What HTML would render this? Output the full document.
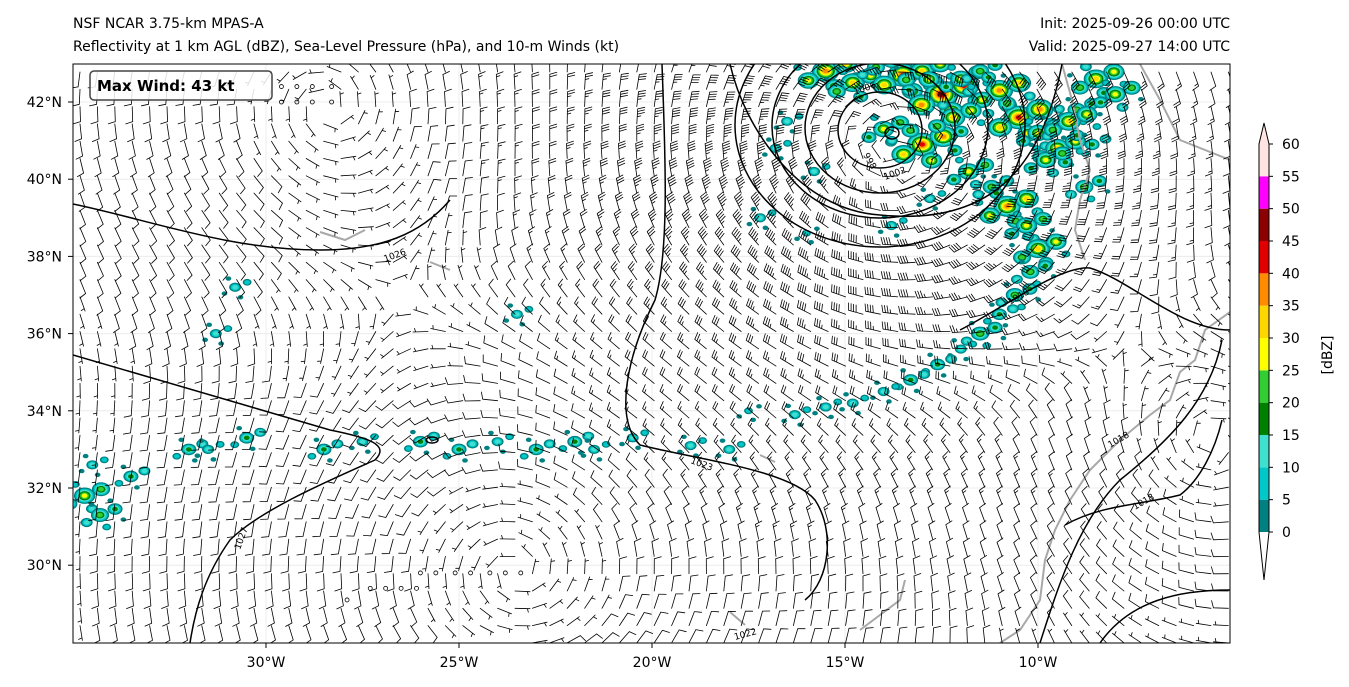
<!DOCTYPE html>
<html><head><meta charset="utf-8"><style>
html,body{margin:0;padding:0;background:#fff;}
svg{display:block;font-family:"DejaVu Sans","Liberation Sans",sans-serif;}
</style></head><body>
<svg id="s" width="1349" height="687" viewBox="0 0 1349 687">
<text x="73" y="28" font-size="14">NSF NCAR 3.75-km MPAS-A</text>
<text x="73" y="51" font-size="14">Reflectivity at 1 km AGL (dBZ), Sea-Level Pressure (hPa), and 10-m Winds (kt)</text>
<text x="1230" y="28" font-size="14" text-anchor="end">Init: 2025-09-26 00:00 UTC</text>
<text x="1230" y="51" font-size="14" text-anchor="end">Valid: 2025-09-27 14:00 UTC</text>
<defs><clipPath id="mc"><rect x="73" y="64" width="1157" height="579"/></clipPath></defs>
<g id="map" clip-path="url(#mc)">
<g id="grid" stroke="#ececec" stroke-width="1"></g>
<g id="refl"></g>
<g id="coast" fill="none" stroke="#a8a8a8" stroke-width="2">
<path d="M1230,312 L1205,330 L1195,360 L1180,372 L1170,400 L1150,415 L1120,440 L1090,470 L1070,500 L1055,530 L1045,560 L1040,600 L1020,630 L1000,643"/>
<path d="M1062,64 L1072,100 L1080,140 L1090,170 L1080,200 L1075,230 L1085,260"/>
<path d="M1140,64 L1160,100 L1180,140 L1230,160"/>
<path d="M320,232 L345,240 L365,230 M430,262 L450,270 M760,455 L775,462 M730,612 L745,625 M860,630 L900,600 L905,580"/>
</g>
<g id="isobars" fill="none" stroke="#000" stroke-width="1.5">
<ellipse cx="892" cy="133" rx="7" ry="6"/>
<ellipse cx="880" cy="130" rx="42" ry="38"/>
<ellipse cx="880" cy="128" rx="75" ry="65"/>
<ellipse cx="880" cy="126" rx="108" ry="92"/>
<ellipse cx="880" cy="125" rx="145" ry="122"/>
<path d="M730,64 C745,130 800,210 880,215 C980,225 1040,180 1062,64"/>
<path d="M73,204 C150,220 230,250 320,250 C380,250 420,235 450,200"/>
<path d="M73,355 C160,380 260,410 330,430 C370,438 390,445 375,460 C330,480 260,510 230,540 C205,575 195,610 190,643"/>
<path d="M662,64 C665,150 670,250 655,300 C625,360 615,420 640,445 C700,460 790,470 815,500 C835,530 830,580 805,600"/>
<path d="M960,330 C1000,310 1060,265 1090,268 C1130,280 1180,330 1230,330"/>
<path d="M1040,643 C1060,580 1080,520 1120,480 C1170,440 1210,400 1222,340"/>
<path d="M1065,525 C1100,505 1140,505 1180,495 C1200,480 1215,450 1222,420"/>
<path d="M1100,643 C1130,600 1180,590 1230,590"/>
<ellipse cx="432" cy="440" rx="6" ry="3"/>
</g>
<g font-size="9" fill="#000">
<text x="385" y="262" transform="rotate(-20 385 262)">1026</text>
<text x="690" y="463" transform="rotate(20 690 463)">1023</text>
<text x="1010" y="305" transform="rotate(-30 1010 305)">1018</text>
<text x="240" y="550" transform="rotate(-70 240 550)">1027</text>
<text x="735" y="640" transform="rotate(-15 735 640)">1022</text>
<text x="1110" y="448" transform="rotate(-30 1110 448)">1018</text>
<text x="1135" y="510" transform="rotate(-30 1135 510)">1018</text>
<text x="855" y="95" transform="rotate(-20 855 95)">1006</text>
<text x="863" y="155" transform="rotate(60 863 155)">998</text>
<text x="885" y="180" transform="rotate(-20 885 180)">1002</text>
</g>
<g id="barbs" stroke="#000" stroke-width="0.8" fill="none" stroke-linecap="round"></g>
<g id="calm" stroke="#000" stroke-width="0.8" fill="none"></g>
</g>
<rect x="73" y="64" width="1157" height="579" fill="none" stroke="#000" stroke-width="1"/>
<g>
<rect x="90" y="71" width="182" height="29" rx="4" fill="#fff" fill-opacity="0.85" stroke="#444" stroke-width="1.5"/>
<text x="97" y="91" font-size="15" font-weight="bold">Max Wind: 43 kt</text>
</g>
<g id="axes" font-size="14"></g>
<g id="cbar"></g>
<text x="1332" y="355" font-size="14" text-anchor="middle" transform="rotate(-90 1332 355)">[dBZ]</text>
</svg>
<script>
const NS="http://www.w3.org/2000/svg";
// axis data
const lonTicks=[-30,-25,-20,-15,-10];
const lonLabels=["30°W","25°W","20°W","15°W","10°W"];
const latTicks=[42,40,38,36,34,32,30];
const latLabels=["42°N","40°N","38°N","36°N","34°N","32°N","30°N"];
// colorbar data
const dbzLevels=[0,5,10,15,20,25,30,35,40,45,50,55,60];
const dbzColors=["#008080","#00c8c8","#40e0d0","#008000","#32cd32","#ffff00","#ffd700","#ff8c00","#e00000","#8b0000","#ff00ff","#ffe4e1"];
// wind field sources: lon, lat, peak strength (kt), radius (deg), sign (+1 cyclonic)
const vortLon=[-13.8,-23.5,-28.5,-5.5];
const vortLat=[40.7,29.8,42.3,33.0];
const vortStr=[40,12,11,9];
const vortRad=[3.0,5.0,4.0,3.0];
const vortSign=[1,-1,-1,1];
// calm points (lon, lat)
const calmLon=[-29.6,-29.2,-28.8,-28.3,-29.6,-29.2,-28.8,-28.3,-26.0,-25.6,-25.1,-24.7,-24.2,-23.8,-23.4,-27.3,-26.9,-26.5,-26.1,-27.9];
const calmLat=[42.4,42.4,42.4,42.4,42.0,42.0,42.0,42.0,29.8,29.8,29.8,29.8,29.8,29.8,29.8,29.4,29.4,29.4,29.4,29.1];
// reflectivity blob clusters: lon, lat, dbz
const blobLon=[-15.5,-14.8,-14.2,-13.5,-13.0,-12.5,-12.0,-11.5,-11.0,-10.5,-10.0,-9.5,-9.0,-8.5,-8.0,-16.5,-16.8,-15.8,-14.0,-13.0,-12.2,-11.8,-11.2,-10.8,-10.3,-10.0,-10.2,-10.6,-11.0,-11.5,-12.0,-12.6,-13.3,-14.0,-14.8,-15.5,-16.3,-17.5,-17.2,-16.0,-13.8,-12.8,-9.8,-9.2,-8.8,-8.6,-27.5,-26,-25,-24,-23,-22,-21.5,-20.5,-19,-18,-30.5,-31.5,-33.5,-34.5,-34.7,-34.3,-32,-31.5,-23.5,-28.5,-30.8,-31.3];
const blobLat=[42.8,42.5,42.9,42.7,42.8,42.2,42.6,42.8,42.3,41.6,41.2,40.8,41.8,42.6,42.2,41.5,40.8,40.2,41.3,40.9,41.6,40.2,39.8,39.3,38.8,38.2,37.6,37.0,36.5,36.0,35.6,35.2,34.8,34.5,34.2,34.1,33.9,34.0,39.0,38.6,38.8,39.5,40.5,41.5,39.8,40.9,33.2,33.2,33.0,33.2,33.0,33.2,33.0,33.3,33.1,33.0,33.3,33.0,32.3,32.6,31.8,31.3,33.0,33.0,36.5,33.0,37.2,36.0];
const blobDbz=[35,30,20,40,30,45,25,20,35,40,25,30,20,30,25,12,10,12,25,40,30,25,20,35,25,30,20,22,15,20,12,18,15,12,10,12,10,8,10,8,12,10,25,30,20,15,12,15,18,12,15,18,12,10,12,10,15,12,15,12,25,20,15,12,10,15,10,10];

const X=lon=>73+(lon+35)*38.6;
const Y=lat=>102+(42-lat)*38.6;
function mk(tag,attrs,parent){const e=document.createElementNS(NS,tag);for(const k in attrs)e.setAttribute(k,attrs[k]);parent.appendChild(e);return e;}

const grid=document.getElementById('grid'),axes=document.getElementById('axes');
lonTicks.forEach((v,i)=>{
  mk('line',{x1:X(v),x2:X(v),y1:64,y2:643},grid);
  const t=mk('line',{x1:X(v),x2:X(v),y1:643,y2:648,stroke:'#000'},axes);
  
  
  const l=mk('text',{x:X(v),y:667,'text-anchor':'middle'},axes);l.textContent=lonLabels[i];
  
  
});
latTicks.forEach((v,i)=>{
  mk('line',{x1:73,x2:1230,y1:Y(v),y2:Y(v)},grid);
  const t=mk('line',{x1:68,x2:73,y1:Y(v),y2:Y(v),stroke:'#000'},axes);
  
  
  const l=mk('text',{x:62,y:Y(v)+5,'text-anchor':'end'},axes);l.textContent=latLabels[i];
  
  
});

const cb=document.getElementById('cbar');
const cbx=1259,cbw=10,cy0=532,cstep=(532-144)/12;
dbzColors.forEach((c,i)=>{
  const r=mk('rect',{x:cbx,y:cy0-(i+1)*cstep,width:cbw,height:cstep,fill:c},cb);
  
  
});
mk('path',{d:`M${cbx},${cy0} L${cbx+cbw/2},580 L${cbx+cbw},${cy0} Z`,fill:'#fff',stroke:'none'},cb);
mk('path',{d:`M${cbx},144 L${cbx+cbw/2},123 L${cbx+cbw},144 Z`,fill:dbzColors[11]},cb);
mk('path',{d:`M${cbx},144 L${cbx+cbw/2},123 L${cbx+cbw},144 L${cbx+cbw},${cy0} L${cbx+cbw/2},580 L${cbx},${cy0} Z`,fill:'none',stroke:'#000','stroke-width':1},cb);
dbzLevels.forEach((v,i)=>{
  const y=cy0-i*cstep;
  mk('line',{x1:cbx+cbw,x2:cbx+cbw+4,y1:y,y2:y,stroke:'#000'},cb);
  const t=mk('text',{x:cbx+cbw+13,y:y+5,'font-size':14},cb);t.textContent=v;
  
  
});

const refl=document.getElementById('refl');
const offs=[[0,0],[9,-4],[-8,5],[4,8],[-5,-7],[14,3],[-13,-2]];
blobLon.forEach((lo,i)=>{
  const d=blobDbz[i],cx=X(lo),cy=Y(blobLat[i]);
  const top=Math.min(11,Math.floor(d/5));
  offs.forEach((o,j)=>{
    if(j>3+top/2)return;
    const px=cx+o[0]*(1+top/6),py=cy+o[1]*(1+top/8);
    const lvl=Math.max(0,top-j);
    for(let k=0;k<=lvl;k++){
      const r=(lvl-k)*1.2+2.2;
      const e=mk('ellipse',{cx:px,cy:py,rx:r*1.3,ry:r,fill:dbzColors[k]},refl);
      
      
    }
  });
});

function wind(lon,lat){
  let u=0,v=0;
  for(let i=0;i<vortLon.length;i++){
    const dx=(lon-vortLon[i])*0.78,dy=lat-vortLat[i];
    const r=Math.sqrt(dx*dx+dy*dy)+0.01,q=r/vortRad[i];
    const sp=vortStr[i]*q*Math.exp(0.5*(1-q*q));
    u+=vortSign[i]*(-dy/r)*sp; v+=vortSign[i]*(dx/r)*sp;
  }
  return [u,v];
}
const bg=document.getElementById('barbs'),calm=document.getElementById('calm');
calmLon.forEach((lo,i)=>{
  const c=mk('circle',{cx:X(lo),cy:Y(calmLat[i]),r:2},calm);
  
  
});
for(let py=72;py<643;py+=17.3){
  for(let px=80;px<1230;px+=17.4){
    const lon=-35+(px-73)/38.6,lat=42-(py-102)/38.6;
    const [u,v]=wind(lon,lat);
    let spd=Math.sqrt(u*u+v*v);
    if(spd<1)continue;
    spd=Math.max(spd,5);
    const ux=-u/Math.hypot(u,v),uy=v/Math.hypot(u,v);
    const L=15,ex=px+ux*L,ey=py+uy*L;
    let d=`M${px.toFixed(1)},${py.toFixed(1)}L${ex.toFixed(1)},${ey.toFixed(1)}`;
    const fx=-uy,fy=ux;
    let n=Math.round(spd/5),pos=0;
    const full=Math.floor(n/2),half=n%2;
    for(let k=0;k<full;k++){
      const bx=ex-ux*pos,by=ey-uy*pos;
      d+=`M${bx.toFixed(1)},${by.toFixed(1)}l${(fx*7+ux*2).toFixed(1)},${(fy*7+uy*2).toFixed(1)}`;
      pos+=2.6;
    }
    if(half){
      if(full==0)pos=2.6;
      const bx=ex-ux*pos,by=ey-uy*pos;
      d+=`M${bx.toFixed(1)},${by.toFixed(1)}l${(fx*3.5+ux*1).toFixed(1)},${(fy*3.5+uy*1).toFixed(1)}`;
    }
    const p=mk('path',{d:d},bg);
    
    
  }
}
</script>
</body></html>
